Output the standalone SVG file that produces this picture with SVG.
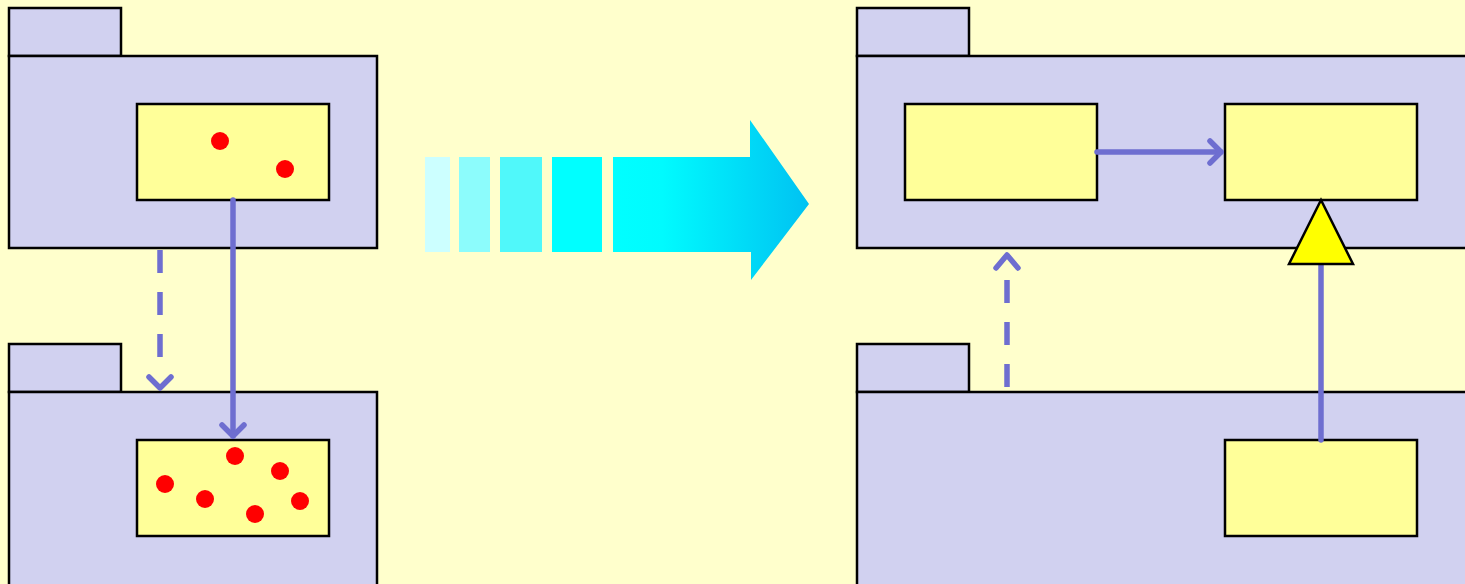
<svg xmlns="http://www.w3.org/2000/svg" width="1465" height="584" viewBox="0 0 1465 584">
  <defs>
    <style>
      .pkg { fill: #d1d1f0; stroke: #000; stroke-width: 2.5; }
      .cls { fill: #ffff99; stroke: #000; stroke-width: 2.5; }
      .dot { fill: #ff0000; }
      .link { fill: none; stroke: #6e6ed0; stroke-width: 5.5; stroke-linecap: round; stroke-linejoin: round; }
      .dash { stroke-dasharray: 23 19; stroke-linecap: butt; }
    </style>
    <linearGradient id="flow" x1="613" y1="0" x2="809" y2="0" gradientUnits="userSpaceOnUse">
      <stop offset="0" stop-color="#00ffff"/>
      <stop offset="0.25" stop-color="#00fbfe"/>
      <stop offset="1" stop-color="#00c2f2"/>
    </linearGradient>
  </defs>

  <rect width="1465" height="584" fill="#ffffcc"/>

  <!-- left: upper package -->
  <g id="pkg-left-top">
    <rect class="pkg" x="9" y="8" width="112" height="48"/>
    <rect class="pkg" x="9" y="56" width="368" height="192"/>
  </g>
  <g id="cls-left-top">
    <rect class="cls" x="137" y="104" width="192" height="96"/>
    <circle class="dot" cx="220" cy="141" r="9"/>
    <circle class="dot" cx="285" cy="169" r="9"/>
  </g>

  <!-- left: lower package -->
  <g id="pkg-left-bottom">
    <rect class="pkg" x="9" y="344" width="112" height="48"/>
    <rect class="pkg" x="9" y="392" width="368" height="200"/>
  </g>
  <g id="cls-left-bottom">
    <rect class="cls" x="137" y="440" width="192" height="96"/>
    <circle class="dot" cx="165" cy="484" r="9"/>
    <circle class="dot" cx="205" cy="499" r="9"/>
    <circle class="dot" cx="235" cy="456" r="9"/>
    <circle class="dot" cx="280" cy="471" r="9"/>
    <circle class="dot" cx="255" cy="514" r="9"/>
    <circle class="dot" cx="300" cy="501" r="9"/>
  </g>

  <!-- transformation arrow -->
  <g id="transform-arrow">
    <rect x="425" y="157" width="25" height="95" fill="#ccffff"/>
    <rect x="459" y="157" width="31" height="95" fill="#8cfcfc"/>
    <rect x="500" y="157" width="42" height="95" fill="#50f8fa"/>
    <rect x="552" y="157" width="50" height="95" fill="#00ffff"/>
    <polygon points="613,157 750,157 750,120 809,204 751,280 751,252 613,252" fill="url(#flow)"/>
  </g>

  <!-- right: upper package -->
  <g id="pkg-right-top">
    <rect class="pkg" x="857" y="8" width="112" height="48"/>
    <rect class="pkg" x="857" y="56" width="620" height="192"/>
  </g>
  <g id="cls-right-top-a">
    <rect class="cls" x="905" y="104" width="192" height="96"/>
  </g>
  <g id="cls-right-top-b">
    <rect class="cls" x="1225" y="104" width="192" height="96"/>
  </g>

  <!-- right: lower package -->
  <g id="pkg-right-bottom">
    <rect class="pkg" x="857" y="344" width="112" height="48"/>
    <rect class="pkg" x="857" y="392" width="620" height="200"/>
  </g>
  <g id="cls-right-bottom">
    <rect class="cls" x="1225" y="440" width="192" height="96"/>
  </g>

  <!-- connectors -->
  <g id="connectors">
    <!-- left: dependency between packages -->
    <line class="link dash" x1="160" y1="250" x2="160" y2="365"/>
    <polyline class="link" points="149,377 160,388 171,377"/>
    <!-- left: association into lower class -->
    <line class="link" x1="233" y1="200" x2="233" y2="436"/>
    <polyline class="link" points="222,425 233,436 244,425"/>

    <!-- right: association between classes -->
    <line class="link" x1="1097" y1="152" x2="1221" y2="152"/>
    <polyline class="link" points="1210,141 1221,152 1210,163"/>

    <!-- right: dependency upward -->
    <line class="link dash" x1="1007" y1="387" x2="1007" y2="272"/>
    <polyline class="link" points="996,268 1007,255 1018,268"/>

    <!-- right: generalization -->
    <line class="link" x1="1321" y1="440" x2="1321" y2="264"/>
    <polygon points="1321,200 1289,264 1353,264" fill="#ffff00" stroke="#000" stroke-width="2.5" stroke-linejoin="miter"/>
  </g>
</svg>
